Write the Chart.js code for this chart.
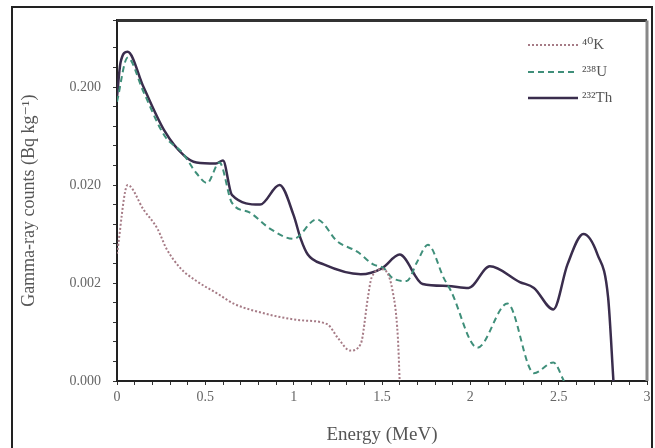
<!DOCTYPE html>
<html>
<head>
<meta charset="utf-8">
<script src="https://cdn.jsdelivr.net/npm/chart.js@4.4.1/dist/chart.umd.min.js"></script>
<style>
  html, body { margin: 0; padding: 0; background: #fff; }
  #wrap { position: relative; width: 655px; height: 448px; overflow: hidden; }
  #frame { position: absolute; left: 11px; top: 6px; width: 638px; height: 470px; border: 2px solid #222; pointer-events: none; }
</style>
</head>
<body>
<div id="wrap">
  <canvas id="chart" width="655" height="448"></canvas>
  <div id="frame"></div>
</div>
<script>
// energy (MeV) and counts, y is in plot units: 0 -> 0.000, 1 -> 0.002, 2 -> 0.020, 3 -> 0.200
const yTickLabels = ['0.000', '0.002', '0.020', '0.200'];
const xTickLabels = ['0', '0.5', '1', '1.5', '2', '2.5', '3'];

const thE = [0, 0.02, 0.06, 0.15, 0.27, 0.38, 0.45, 0.56, 0.6, 0.65, 0.81, 0.92, 1.0, 1.04, 1.08, 1.17, 1.38, 1.5, 1.6, 1.73, 1.87, 1.99, 2.11, 2.28, 2.36, 2.47, 2.55, 2.64, 2.72, 2.78, 2.81];
const thY = [2.9, 3.25, 3.36, 3.0, 2.55, 2.3, 2.23, 2.22, 2.25, 1.9, 1.8, 2.0, 1.69, 1.45, 1.29, 1.19, 1.09, 1.15, 1.29, 0.99, 0.97, 0.95, 1.17, 1.01, 0.95, 0.73, 1.19, 1.5, 1.29, 0.85, 0.0];

const uE = [0, 0.06, 0.15, 0.27, 0.37, 0.45, 0.51, 0.58, 0.65, 0.75, 0.87, 1.0, 1.13, 1.25, 1.36, 1.45, 1.51, 1.56, 1.64, 1.7, 1.76, 1.85, 1.89, 2.04, 2.21, 2.36, 2.47, 2.53];
const uY = [2.85, 3.3, 2.95, 2.5, 2.33, 2.12, 2.02, 2.23, 1.82, 1.72, 1.55, 1.45, 1.65, 1.42, 1.32, 1.19, 1.15, 1.05, 1.02, 1.22, 1.39, 1.05, 0.92, 0.34, 0.79, 0.08, 0.19, 0.0];

const kE = [0, 0.06, 0.15, 0.23, 0.28, 0.36, 0.45, 0.57, 0.66, 0.77, 1.04, 1.19, 1.25, 1.32, 1.38, 1.42, 1.44, 1.5, 1.56, 1.59, 1.6];
const kY = [1.3, 2.0, 1.75, 1.55, 1.35, 1.15, 1.02, 0.89, 0.79, 0.72, 0.62, 0.58, 0.44, 0.31, 0.38, 0.85, 1.05, 1.14, 0.92, 0.44, 0.0];

const seriesNames = ['\u2074\u2070K', '\u00B2\u00B3\u2078U', '\u00B2\u00B3\u00B2Th'];

const pts = (xs, ys) => xs.map((x, i) => ({ x: x, y: ys[i] }));

const serif = "'Liberation Serif', 'DejaVu Serif', serif";

// box on top/right of the plot and the legend
const extras = {
  id: 'extras',
  afterDatasetsDraw(chart) {
    const { ctx, chartArea: a } = chart;
    ctx.save();
    ctx.strokeStyle = '#333';
    ctx.lineWidth = 3;
    ctx.beginPath();
    ctx.moveTo(a.left, a.top);
    ctx.lineTo(a.right, a.top);
    ctx.stroke();
    ctx.strokeStyle = '#888';
    ctx.beginPath();
    ctx.moveTo(a.right, a.top);
    ctx.lineTo(a.right, a.bottom);
    ctx.stroke();

    // legend
    const rows = [45, 72, 98];
    chart.data.datasets.forEach((ds, i) => {
      const y = rows[i];
      ctx.strokeStyle = ds.borderColor;
      ctx.lineWidth = ds.borderWidth;
      ctx.setLineDash(ds.borderDash || []);
      ctx.beginPath();
      ctx.moveTo(528, y);
      ctx.lineTo(578, y);
      ctx.stroke();
      ctx.setLineDash([]);
      ctx.fillStyle = '#555';
      ctx.font = '15px ' + serif;
      ctx.textBaseline = 'middle';
      ctx.fillText(ds.label, 582, y);
    });
    ctx.restore();
  }
};

new Chart(document.getElementById('chart'), {
  type: 'line',
  data: {
    datasets: [
      {
        label: seriesNames[0],
        data: pts(kE, kY),
        borderColor: '#a67b86',
        borderWidth: 2,
        borderDash: [2, 2],
        pointRadius: 0,
        cubicInterpolationMode: 'monotone'
      },
      {
        label: seriesNames[1],
        data: pts(uE, uY),
        borderColor: '#3f8f7a',
        borderWidth: 2,
        borderDash: [6, 4],
        pointRadius: 0,
        cubicInterpolationMode: 'monotone'
      },
      {
        label: seriesNames[2],
        data: pts(thE, thY),
        borderColor: '#3a2d4d',
        borderWidth: 2.5,
        pointRadius: 0,
        cubicInterpolationMode: 'monotone'
      }
    ]
  },
  options: {
    responsive: false,
    animation: false,
    layout: { padding: { top: 15, right: 8, left: 0, bottom: 0 } },
    plugins: {
      legend: { display: false },
      tooltip: { enabled: false }
    },
    scales: {
      x: {
        type: 'linear',
        min: 0,
        max: 3,
        afterFit(scale) { scale.height = 67; },
        border: { color: '#222', width: 2 },
        grid: { drawOnChartArea: false, drawTicks: true, tickLength: 4, color: '#333' },
        ticks: {
          stepSize: 0.1,
          autoSkip: false,
          maxRotation: 0,
          padding: 4,
          color: '#666',
          font: { family: serif, size: 14 },
          callback(v) {
            const k = Math.round(v * 2);
            return Math.abs(v * 2 - k) < 1e-6 ? xTickLabels[k] : '';
          }
        },
        title: {
          display: true,
          text: 'Energy (MeV)',
          color: '#555',
          font: { family: serif, size: 19 },
          padding: { top: 6, bottom: 2 }
        }
      },
      y: {
        type: 'linear',
        min: 0,
        max: 3.68,
        afterFit(scale) { scale.width = 117; },
        border: { color: '#222', width: 2 },
        grid: { drawOnChartArea: false, drawTicks: true, tickLength: 4, color: '#333' },
        ticks: {
          stepSize: 0.2,
          autoSkip: false,
          padding: 12,
          color: '#666',
          font: { family: serif, size: 14 },
          callback(v) {
            const k = Math.round(v);
            return Math.abs(v - k) < 1e-6 && k < yTickLabels.length ? yTickLabels[k] : '';
          }
        },
        title: {
          display: true,
          text: 'Gamma-ray counts (Bq kg\u207B\u00B9)',
          color: '#555',
          font: { family: serif, size: 18 },
          padding: { top: 18, bottom: 4 }
        }
      }
    }
  },
  plugins: [extras]
});
</script>
</body>
</html>
